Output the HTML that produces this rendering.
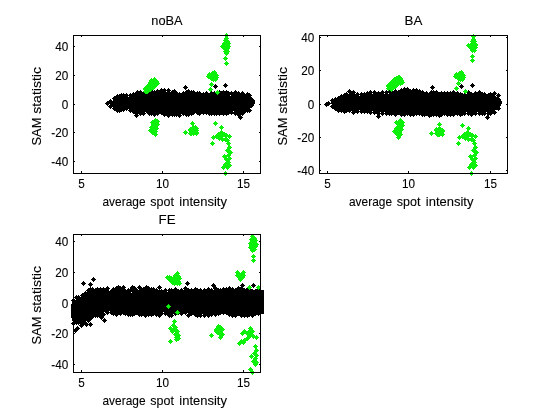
<!DOCTYPE html>
<html lang="en"><head><meta charset="utf-8"><title>SAM statistic vs average spot intensity</title>
<style>html,body{margin:0;padding:0;background:#fff;overflow:hidden}svg{display:block;will-change:transform}</style></head><body>
<svg width="560" height="420" viewBox="0 0 560 420">
<rect width="560" height="420" fill="#fff"/>
<g id="ax1">
<g font-family='"Liberation Sans", Arial, Helvetica, sans-serif' font-size="13.33" fill="#000" stroke="#000" stroke-width=".1"><text transform="translate(81.5 188.0) scale(.88 1)" text-anchor="middle">5</text><text transform="translate(162.5 188.0) scale(.88 1)" text-anchor="middle">10</text><text transform="translate(243.5 188.0) scale(.88 1)" text-anchor="middle">15</text><text transform="translate(68.2 50.8) scale(.88 1)" text-anchor="end">40</text><text transform="translate(68.2 79.8) scale(.88 1)" text-anchor="end">20</text><text transform="translate(68.2 108.8) scale(.88 1)" text-anchor="end">0</text><text transform="translate(68.2 136.8) scale(.88 1)" text-anchor="end">-20</text><text transform="translate(68.2 165.8) scale(.88 1)" text-anchor="end">-40</text><text x="167.0" y="25.0" text-anchor="middle" textLength="31.3" lengthAdjust="spacingAndGlyphs">noBA</text><text x="102.5" y="205.5" textLength="43" lengthAdjust="spacingAndGlyphs">average</text><text x="150.3" y="205.5" textLength="23.6" lengthAdjust="spacingAndGlyphs">spot</text><text x="179.3" y="205.5" textLength="47.6" lengthAdjust="spacingAndGlyphs">intensity</text><g transform="translate(41.2 106.2) rotate(-90)"><text x="-39.3" textLength="28" lengthAdjust="spacingAndGlyphs">SAM</text><text x="-7.6" textLength="46.8" lengthAdjust="spacingAndGlyphs">statistic</text></g></g>
<g shape-rendering="crispEdges" fill="#000"><polygon points="105.0,103.0 106.0,103.2 107.0,103.4 108.0,103.6 109.0,103.5 110.0,102.8 111.0,102.0 112.0,101.3 113.0,100.7 114.0,100.1 115.0,99.5 116.0,98.9 117.0,98.3 118.0,97.7 119.0,97.2 120.0,96.8 121.0,96.4 122.0,96.4 123.0,96.3 124.0,96.2 125.0,96.2 126.0,96.5 127.0,96.8 128.0,97.1 129.0,96.9 130.0,96.8 131.0,96.4 132.0,95.8 133.0,95.3 134.0,94.7 135.0,94.5 136.0,94.4 137.0,94.2 138.0,94.1 139.0,93.9 140.0,93.8 141.0,93.6 142.0,93.7 143.0,94.1 144.0,94.4 145.0,94.1 146.0,93.8 147.0,93.5 148.0,93.1 149.0,93.1 150.0,93.0 151.0,93.0 152.0,93.3 153.0,93.5 154.0,93.8 155.0,94.1 156.0,93.7 157.0,93.3 158.0,92.9 159.0,92.5 160.0,92.3 161.0,92.0 162.0,91.7 163.0,91.5 164.0,91.5 165.0,91.5 166.0,91.5 167.0,91.5 168.0,91.6 169.0,91.8 170.0,91.9 171.0,92.1 172.0,92.4 173.0,92.7 174.0,93.0 175.0,93.3 176.0,93.6 177.0,93.8 178.0,94.0 179.0,94.2 180.0,94.4 181.0,94.6 182.0,94.7 183.0,94.7 184.0,94.8 185.0,94.8 186.0,94.1 187.0,93.4 188.0,93.0 189.0,93.0 190.0,93.1 191.0,93.3 192.0,93.7 193.0,94.1 194.0,93.9 195.0,93.7 196.0,93.5 197.0,93.6 198.0,93.9 199.0,94.2 200.0,94.5 201.0,94.7 202.0,94.9 203.0,95.0 204.0,95.0 205.0,95.0 206.0,95.0 207.0,95.2 208.0,95.4 209.0,95.6 210.0,95.4 211.0,95.1 212.0,94.8 213.0,94.6 214.0,94.6 215.0,94.6 216.0,94.5 217.0,94.3 218.0,94.1 219.0,94.0 220.0,94.0 221.0,93.9 222.0,93.8 223.0,93.8 224.0,93.8 225.0,93.8 226.0,94.0 227.0,94.4 228.0,94.7 229.0,95.1 230.0,95.6 231.0,95.5 232.0,94.9 233.0,94.2 234.0,93.9 235.0,93.9 236.0,93.9 237.0,93.9 238.0,94.0 239.0,94.0 240.0,94.0 241.0,94.0 242.0,94.7 243.0,95.4 244.0,96.0 245.0,96.3 246.0,96.2 247.0,96.1 248.0,95.9 249.0,96.0 250.0,96.4 251.0,96.7 252.0,97.0 253.0,98.3 254.0,99.6 255.0,100.9 255.0,103.2 254.0,104.9 253.0,106.5 252.0,107.2 251.0,107.9 250.0,108.6 249.0,109.1 248.0,109.7 247.0,110.2 246.0,110.7 245.0,111.1 244.0,111.7 243.0,112.3 242.0,112.8 241.0,112.9 240.0,113.0 239.0,113.0 238.0,113.0 237.0,112.9 236.0,112.7 235.0,112.2 234.0,111.7 233.0,111.1 232.0,111.3 231.0,111.5 230.0,111.6 229.0,111.7 228.0,111.7 227.0,111.8 226.0,112.2 225.0,112.6 224.0,113.0 223.0,113.0 222.0,112.8 221.0,112.5 220.0,112.4 219.0,112.4 218.0,112.4 217.0,112.5 216.0,112.7 215.0,112.9 214.0,112.8 213.0,112.6 212.0,112.5 211.0,112.5 210.0,112.5 209.0,112.5 208.0,112.5 207.0,112.3 206.0,112.1 205.0,112.1 204.0,112.4 203.0,112.8 202.0,113.1 201.0,112.7 200.0,112.4 199.0,112.1 198.0,112.4 197.0,112.6 196.0,112.6 195.0,112.2 194.0,111.9 193.0,111.8 192.0,112.0 191.0,112.2 190.0,112.4 189.0,113.0 188.0,113.7 187.0,113.7 186.0,113.3 185.0,112.9 184.0,112.9 183.0,113.3 182.0,113.8 181.0,114.2 180.0,114.1 179.0,114.0 178.0,113.8 177.0,113.7 176.0,113.5 175.0,113.7 174.0,113.8 173.0,114.0 172.0,114.1 171.0,114.0 170.0,113.9 169.0,113.7 168.0,113.9 167.0,114.0 166.0,114.2 165.0,113.6 164.0,113.0 163.0,112.3 162.0,112.1 161.0,112.1 160.0,112.1 159.0,112.1 158.0,112.2 157.0,112.5 156.0,112.8 155.0,113.0 154.0,113.1 153.0,112.9 152.0,112.7 151.0,112.5 150.0,112.2 149.0,111.7 148.0,111.2 147.0,110.7 146.0,110.8 145.0,111.3 144.0,111.9 143.0,112.2 142.0,112.1 141.0,112.0 140.0,112.0 139.0,112.0 138.0,111.9 137.0,111.8 136.0,111.5 135.0,111.2 134.0,111.0 133.0,110.3 132.0,109.7 131.0,109.1 130.0,109.0 129.0,109.0 128.0,108.9 127.0,108.8 126.0,108.4 125.0,108.1 124.0,107.7 123.0,108.0 122.0,108.3 121.0,108.7 120.0,108.9 119.0,108.9 118.0,109.0 117.0,108.9 116.0,108.6 115.0,108.3 114.0,107.9 113.0,107.5 112.0,107.0 111.0,106.0 110.0,105.0 109.0,103.9 108.0,103.6 107.0,103.4 106.0,103.2 105.0,103.0"/><path d="M107.5 101.0l2.5 2.5l-2.5 2.5l-2.5 -2.5zM110.5 99.0l2.5 2.5l-2.5 2.5l-2.5 -2.5zM110.5 104.0l2.5 2.5l-2.5 2.5l-2.5 -2.5zM114.5 96.0l2.5 2.5l-2.5 2.5l-2.5 -2.5zM114.5 106.0l2.5 2.5l-2.5 2.5l-2.5 -2.5zM117.5 94.0l2.5 2.5l-2.5 2.5l-2.5 -2.5zM117.5 108.0l2.5 2.5l-2.5 2.5l-2.5 -2.5zM119.5 94.0l2.5 2.5l-2.5 2.5l-2.5 -2.5zM119.5 108.0l2.5 2.5l-2.5 2.5l-2.5 -2.5zM121.5 93.0l2.5 2.5l-2.5 2.5l-2.5 -2.5zM121.5 107.0l2.5 2.5l-2.5 2.5l-2.5 -2.5zM123.5 93.0l2.5 2.5l-2.5 2.5l-2.5 -2.5zM123.5 107.0l2.5 2.5l-2.5 2.5l-2.5 -2.5zM126.5 93.0l2.5 2.5l-2.5 2.5l-2.5 -2.5zM126.5 106.0l2.5 2.5l-2.5 2.5l-2.5 -2.5zM130.5 93.0l2.5 2.5l-2.5 2.5l-2.5 -2.5zM130.5 108.0l2.5 2.5l-2.5 2.5l-2.5 -2.5zM133.5 92.0l2.5 2.5l-2.5 2.5l-2.5 -2.5zM133.5 109.0l2.5 2.5l-2.5 2.5l-2.5 -2.5zM135.5 92.0l2.5 2.5l-2.5 2.5l-2.5 -2.5zM135.5 110.0l2.5 2.5l-2.5 2.5l-2.5 -2.5zM137.5 90.0l2.5 2.5l-2.5 2.5l-2.5 -2.5zM137.5 110.0l2.5 2.5l-2.5 2.5l-2.5 -2.5zM140.5 90.0l2.5 2.5l-2.5 2.5l-2.5 -2.5zM140.5 111.0l2.5 2.5l-2.5 2.5l-2.5 -2.5zM143.5 91.0l2.5 2.5l-2.5 2.5l-2.5 -2.5zM143.5 111.0l2.5 2.5l-2.5 2.5l-2.5 -2.5zM147.5 91.0l2.5 2.5l-2.5 2.5l-2.5 -2.5zM147.5 109.0l2.5 2.5l-2.5 2.5l-2.5 -2.5zM149.5 90.0l2.5 2.5l-2.5 2.5l-2.5 -2.5zM149.5 111.0l2.5 2.5l-2.5 2.5l-2.5 -2.5zM151.5 89.0l2.5 2.5l-2.5 2.5l-2.5 -2.5zM151.5 111.0l2.5 2.5l-2.5 2.5l-2.5 -2.5zM154.5 90.0l2.5 2.5l-2.5 2.5l-2.5 -2.5zM154.5 112.0l2.5 2.5l-2.5 2.5l-2.5 -2.5zM157.5 89.0l2.5 2.5l-2.5 2.5l-2.5 -2.5zM157.5 111.0l2.5 2.5l-2.5 2.5l-2.5 -2.5zM161.5 88.0l2.5 2.5l-2.5 2.5l-2.5 -2.5zM161.5 110.0l2.5 2.5l-2.5 2.5l-2.5 -2.5zM164.5 88.0l2.5 2.5l-2.5 2.5l-2.5 -2.5zM164.5 112.0l2.5 2.5l-2.5 2.5l-2.5 -2.5zM168.5 88.0l2.5 2.5l-2.5 2.5l-2.5 -2.5zM168.5 113.0l2.5 2.5l-2.5 2.5l-2.5 -2.5zM172.5 90.0l2.5 2.5l-2.5 2.5l-2.5 -2.5zM172.5 112.0l2.5 2.5l-2.5 2.5l-2.5 -2.5zM174.5 89.0l2.5 2.5l-2.5 2.5l-2.5 -2.5zM174.5 112.0l2.5 2.5l-2.5 2.5l-2.5 -2.5zM176.5 91.0l2.5 2.5l-2.5 2.5l-2.5 -2.5zM176.5 112.0l2.5 2.5l-2.5 2.5l-2.5 -2.5zM179.5 92.0l2.5 2.5l-2.5 2.5l-2.5 -2.5zM179.5 113.0l2.5 2.5l-2.5 2.5l-2.5 -2.5zM183.5 91.0l2.5 2.5l-2.5 2.5l-2.5 -2.5zM183.5 111.0l2.5 2.5l-2.5 2.5l-2.5 -2.5zM186.5 90.0l2.5 2.5l-2.5 2.5l-2.5 -2.5zM186.5 112.0l2.5 2.5l-2.5 2.5l-2.5 -2.5zM188.5 89.0l2.5 2.5l-2.5 2.5l-2.5 -2.5zM188.5 112.0l2.5 2.5l-2.5 2.5l-2.5 -2.5zM191.5 90.0l2.5 2.5l-2.5 2.5l-2.5 -2.5zM191.5 111.0l2.5 2.5l-2.5 2.5l-2.5 -2.5zM193.5 90.0l2.5 2.5l-2.5 2.5l-2.5 -2.5zM193.5 110.0l2.5 2.5l-2.5 2.5l-2.5 -2.5zM197.5 91.0l2.5 2.5l-2.5 2.5l-2.5 -2.5zM197.5 110.0l2.5 2.5l-2.5 2.5l-2.5 -2.5zM199.5 91.0l2.5 2.5l-2.5 2.5l-2.5 -2.5zM199.5 111.0l2.5 2.5l-2.5 2.5l-2.5 -2.5zM203.5 92.0l2.5 2.5l-2.5 2.5l-2.5 -2.5zM203.5 110.0l2.5 2.5l-2.5 2.5l-2.5 -2.5zM206.5 91.0l2.5 2.5l-2.5 2.5l-2.5 -2.5zM206.5 110.0l2.5 2.5l-2.5 2.5l-2.5 -2.5zM209.5 93.0l2.5 2.5l-2.5 2.5l-2.5 -2.5zM209.5 111.0l2.5 2.5l-2.5 2.5l-2.5 -2.5zM211.5 91.0l2.5 2.5l-2.5 2.5l-2.5 -2.5zM211.5 111.0l2.5 2.5l-2.5 2.5l-2.5 -2.5zM214.5 91.0l2.5 2.5l-2.5 2.5l-2.5 -2.5zM214.5 111.0l2.5 2.5l-2.5 2.5l-2.5 -2.5zM216.5 91.0l2.5 2.5l-2.5 2.5l-2.5 -2.5zM216.5 111.0l2.5 2.5l-2.5 2.5l-2.5 -2.5zM219.5 90.0l2.5 2.5l-2.5 2.5l-2.5 -2.5zM219.5 111.0l2.5 2.5l-2.5 2.5l-2.5 -2.5zM221.5 91.0l2.5 2.5l-2.5 2.5l-2.5 -2.5zM221.5 110.0l2.5 2.5l-2.5 2.5l-2.5 -2.5zM223.5 90.0l2.5 2.5l-2.5 2.5l-2.5 -2.5zM223.5 111.0l2.5 2.5l-2.5 2.5l-2.5 -2.5zM226.5 90.0l2.5 2.5l-2.5 2.5l-2.5 -2.5zM226.5 111.0l2.5 2.5l-2.5 2.5l-2.5 -2.5zM228.5 91.0l2.5 2.5l-2.5 2.5l-2.5 -2.5zM228.5 110.0l2.5 2.5l-2.5 2.5l-2.5 -2.5zM231.5 91.0l2.5 2.5l-2.5 2.5l-2.5 -2.5zM231.5 110.0l2.5 2.5l-2.5 2.5l-2.5 -2.5zM235.5 90.0l2.5 2.5l-2.5 2.5l-2.5 -2.5zM235.5 111.0l2.5 2.5l-2.5 2.5l-2.5 -2.5zM238.5 91.0l2.5 2.5l-2.5 2.5l-2.5 -2.5zM238.5 112.0l2.5 2.5l-2.5 2.5l-2.5 -2.5zM242.5 91.0l2.5 2.5l-2.5 2.5l-2.5 -2.5zM242.5 111.0l2.5 2.5l-2.5 2.5l-2.5 -2.5zM244.5 94.0l2.5 2.5l-2.5 2.5l-2.5 -2.5zM244.5 109.0l2.5 2.5l-2.5 2.5l-2.5 -2.5zM247.5 92.0l2.5 2.5l-2.5 2.5l-2.5 -2.5zM247.5 108.0l2.5 2.5l-2.5 2.5l-2.5 -2.5zM249.5 93.0l2.5 2.5l-2.5 2.5l-2.5 -2.5zM249.5 108.0l2.5 2.5l-2.5 2.5l-2.5 -2.5zM185.5 85.0l2.5 2.5l-2.5 2.5l-2.5 -2.5zM215.5 84.0l2.5 2.5l-2.5 2.5l-2.5 -2.5zM225.5 83.0l2.5 2.5l-2.5 2.5l-2.5 -2.5zM240.5 115.0l2.5 2.5l-2.5 2.5l-2.5 -2.5zM136.5 113.0l2.5 2.5l-2.5 2.5l-2.5 -2.5z"/></g>
<path shape-rendering="crispEdges" fill="#0cf00c" d="M226.5 33.0l2.5 2.5l-2.5 2.5l-2.5 -2.5zM226.5 36.0l2.5 2.5l-2.5 2.5l-2.5 -2.5zM225.5 38.0l2.5 2.5l-2.5 2.5l-2.5 -2.5zM227.5 39.0l2.5 2.5l-2.5 2.5l-2.5 -2.5zM224.5 41.0l2.5 2.5l-2.5 2.5l-2.5 -2.5zM226.5 41.0l2.5 2.5l-2.5 2.5l-2.5 -2.5zM228.5 41.0l2.5 2.5l-2.5 2.5l-2.5 -2.5zM222.5 44.0l2.5 2.5l-2.5 2.5l-2.5 -2.5zM225.5 44.0l2.5 2.5l-2.5 2.5l-2.5 -2.5zM227.5 44.0l2.5 2.5l-2.5 2.5l-2.5 -2.5zM228.5 44.0l2.5 2.5l-2.5 2.5l-2.5 -2.5zM225.5 46.0l2.5 2.5l-2.5 2.5l-2.5 -2.5zM227.5 46.0l2.5 2.5l-2.5 2.5l-2.5 -2.5zM224.5 46.0l2.5 2.5l-2.5 2.5l-2.5 -2.5zM225.5 49.0l2.5 2.5l-2.5 2.5l-2.5 -2.5zM227.5 49.0l2.5 2.5l-2.5 2.5l-2.5 -2.5zM226.5 51.0l2.5 2.5l-2.5 2.5l-2.5 -2.5zM225.5 56.0l2.5 2.5l-2.5 2.5l-2.5 -2.5zM226.5 61.0l2.5 2.5l-2.5 2.5l-2.5 -2.5zM214.5 70.0l2.5 2.5l-2.5 2.5l-2.5 -2.5zM212.5 71.0l2.5 2.5l-2.5 2.5l-2.5 -2.5zM209.5 72.0l2.5 2.5l-2.5 2.5l-2.5 -2.5zM208.5 74.0l2.5 2.5l-2.5 2.5l-2.5 -2.5zM211.5 74.0l2.5 2.5l-2.5 2.5l-2.5 -2.5zM213.5 73.0l2.5 2.5l-2.5 2.5l-2.5 -2.5zM216.5 73.0l2.5 2.5l-2.5 2.5l-2.5 -2.5zM216.5 75.0l2.5 2.5l-2.5 2.5l-2.5 -2.5zM214.5 76.0l2.5 2.5l-2.5 2.5l-2.5 -2.5zM211.5 76.0l2.5 2.5l-2.5 2.5l-2.5 -2.5zM215.5 77.0l2.5 2.5l-2.5 2.5l-2.5 -2.5zM213.5 77.0l2.5 2.5l-2.5 2.5l-2.5 -2.5zM210.5 75.0l2.5 2.5l-2.5 2.5l-2.5 -2.5zM214.5 72.0l2.5 2.5l-2.5 2.5l-2.5 -2.5zM211.5 82.0l2.5 2.5l-2.5 2.5l-2.5 -2.5zM210.5 87.0l2.5 2.5l-2.5 2.5l-2.5 -2.5zM217.5 90.0l2.5 2.5l-2.5 2.5l-2.5 -2.5zM147.5 84.0l2.5 2.5l-2.5 2.5l-2.5 -2.5zM150.5 81.0l2.5 2.5l-2.5 2.5l-2.5 -2.5zM150.5 83.0l2.5 2.5l-2.5 2.5l-2.5 -2.5zM146.5 88.0l2.5 2.5l-2.5 2.5l-2.5 -2.5zM145.5 87.0l2.5 2.5l-2.5 2.5l-2.5 -2.5zM151.5 86.0l2.5 2.5l-2.5 2.5l-2.5 -2.5zM146.5 87.0l2.5 2.5l-2.5 2.5l-2.5 -2.5zM153.5 85.0l2.5 2.5l-2.5 2.5l-2.5 -2.5zM153.5 78.0l2.5 2.5l-2.5 2.5l-2.5 -2.5zM153.5 80.0l2.5 2.5l-2.5 2.5l-2.5 -2.5zM145.5 86.0l2.5 2.5l-2.5 2.5l-2.5 -2.5zM150.5 87.0l2.5 2.5l-2.5 2.5l-2.5 -2.5zM147.5 87.0l2.5 2.5l-2.5 2.5l-2.5 -2.5zM151.5 82.0l2.5 2.5l-2.5 2.5l-2.5 -2.5zM149.5 82.0l2.5 2.5l-2.5 2.5l-2.5 -2.5zM152.5 82.0l2.5 2.5l-2.5 2.5l-2.5 -2.5zM149.5 86.0l2.5 2.5l-2.5 2.5l-2.5 -2.5zM149.5 84.0l2.5 2.5l-2.5 2.5l-2.5 -2.5zM154.5 82.0l2.5 2.5l-2.5 2.5l-2.5 -2.5zM148.5 87.0l2.5 2.5l-2.5 2.5l-2.5 -2.5zM152.5 85.0l2.5 2.5l-2.5 2.5l-2.5 -2.5zM152.5 81.0l2.5 2.5l-2.5 2.5l-2.5 -2.5zM150.5 86.0l2.5 2.5l-2.5 2.5l-2.5 -2.5zM146.5 89.0l2.5 2.5l-2.5 2.5l-2.5 -2.5zM153.5 82.0l2.5 2.5l-2.5 2.5l-2.5 -2.5zM152.5 83.0l2.5 2.5l-2.5 2.5l-2.5 -2.5zM151.5 83.0l2.5 2.5l-2.5 2.5l-2.5 -2.5zM155.5 83.0l2.5 2.5l-2.5 2.5l-2.5 -2.5zM151.5 85.0l2.5 2.5l-2.5 2.5l-2.5 -2.5zM147.5 89.0l2.5 2.5l-2.5 2.5l-2.5 -2.5zM152.5 80.0l2.5 2.5l-2.5 2.5l-2.5 -2.5zM151.5 78.0l2.5 2.5l-2.5 2.5l-2.5 -2.5zM154.5 77.0l2.5 2.5l-2.5 2.5l-2.5 -2.5zM153.5 79.0l2.5 2.5l-2.5 2.5l-2.5 -2.5zM156.5 79.0l2.5 2.5l-2.5 2.5l-2.5 -2.5zM150.5 80.0l2.5 2.5l-2.5 2.5l-2.5 -2.5zM155.5 82.0l2.5 2.5l-2.5 2.5l-2.5 -2.5zM154.5 84.0l2.5 2.5l-2.5 2.5l-2.5 -2.5zM145.5 89.0l2.5 2.5l-2.5 2.5l-2.5 -2.5zM157.5 81.0l2.5 2.5l-2.5 2.5l-2.5 -2.5zM154.5 120.0l2.5 2.5l-2.5 2.5l-2.5 -2.5zM155.5 124.0l2.5 2.5l-2.5 2.5l-2.5 -2.5zM152.5 126.0l2.5 2.5l-2.5 2.5l-2.5 -2.5zM154.5 128.0l2.5 2.5l-2.5 2.5l-2.5 -2.5zM152.5 129.9l2.5 2.5l-2.5 2.5l-2.5 -2.5zM154.5 130.9l2.5 2.5l-2.5 2.5l-2.5 -2.5zM155.5 118.0l2.5 2.5l-2.5 2.5l-2.5 -2.5zM153.5 122.0l2.5 2.5l-2.5 2.5l-2.5 -2.5zM157.5 122.0l2.5 2.5l-2.5 2.5l-2.5 -2.5zM151.5 125.0l2.5 2.5l-2.5 2.5l-2.5 -2.5zM156.5 126.0l2.5 2.5l-2.5 2.5l-2.5 -2.5zM153.5 124.0l2.5 2.5l-2.5 2.5l-2.5 -2.5zM150.5 128.0l2.5 2.5l-2.5 2.5l-2.5 -2.5zM155.5 128.9l2.5 2.5l-2.5 2.5l-2.5 -2.5zM153.5 128.0l2.5 2.5l-2.5 2.5l-2.5 -2.5zM155.5 131.9l2.5 2.5l-2.5 2.5l-2.5 -2.5zM157.5 119.0l2.5 2.5l-2.5 2.5l-2.5 -2.5zM152.5 120.0l2.5 2.5l-2.5 2.5l-2.5 -2.5zM192.5 121.0l2.5 2.5l-2.5 2.5l-2.5 -2.5zM185.5 129.9l2.5 2.5l-2.5 2.5l-2.5 -2.5zM194.5 129.9l2.5 2.5l-2.5 2.5l-2.5 -2.5zM196.5 129.9l2.5 2.5l-2.5 2.5l-2.5 -2.5zM190.5 130.9l2.5 2.5l-2.5 2.5l-2.5 -2.5zM195.5 129.9l2.5 2.5l-2.5 2.5l-2.5 -2.5zM190.5 127.0l2.5 2.5l-2.5 2.5l-2.5 -2.5zM195.5 125.0l2.5 2.5l-2.5 2.5l-2.5 -2.5zM193.5 130.9l2.5 2.5l-2.5 2.5l-2.5 -2.5zM191.5 130.9l2.5 2.5l-2.5 2.5l-2.5 -2.5zM194.5 128.0l2.5 2.5l-2.5 2.5l-2.5 -2.5zM192.5 127.0l2.5 2.5l-2.5 2.5l-2.5 -2.5zM195.5 128.9l2.5 2.5l-2.5 2.5l-2.5 -2.5zM196.5 128.0l2.5 2.5l-2.5 2.5l-2.5 -2.5zM190.5 128.0l2.5 2.5l-2.5 2.5l-2.5 -2.5zM193.5 128.0l2.5 2.5l-2.5 2.5l-2.5 -2.5zM196.5 126.0l2.5 2.5l-2.5 2.5l-2.5 -2.5zM195.5 126.0l2.5 2.5l-2.5 2.5l-2.5 -2.5zM191.5 129.9l2.5 2.5l-2.5 2.5l-2.5 -2.5zM193.5 125.0l2.5 2.5l-2.5 2.5l-2.5 -2.5zM196.5 130.9l2.5 2.5l-2.5 2.5l-2.5 -2.5zM215.5 121.0l2.5 2.5l-2.5 2.5l-2.5 -2.5zM221.5 125.0l2.5 2.5l-2.5 2.5l-2.5 -2.5zM212.5 140.9l2.5 2.5l-2.5 2.5l-2.5 -2.5zM213.5 134.9l2.5 2.5l-2.5 2.5l-2.5 -2.5zM216.5 133.9l2.5 2.5l-2.5 2.5l-2.5 -2.5zM218.5 131.9l2.5 2.5l-2.5 2.5l-2.5 -2.5zM221.5 129.9l2.5 2.5l-2.5 2.5l-2.5 -2.5zM221.5 133.9l2.5 2.5l-2.5 2.5l-2.5 -2.5zM224.5 131.9l2.5 2.5l-2.5 2.5l-2.5 -2.5zM226.5 132.9l2.5 2.5l-2.5 2.5l-2.5 -2.5zM229.5 133.9l2.5 2.5l-2.5 2.5l-2.5 -2.5zM222.5 136.9l2.5 2.5l-2.5 2.5l-2.5 -2.5zM219.5 135.9l2.5 2.5l-2.5 2.5l-2.5 -2.5zM225.5 136.9l2.5 2.5l-2.5 2.5l-2.5 -2.5zM227.5 137.9l2.5 2.5l-2.5 2.5l-2.5 -2.5zM228.5 140.9l2.5 2.5l-2.5 2.5l-2.5 -2.5zM229.5 144.9l2.5 2.5l-2.5 2.5l-2.5 -2.5zM227.5 147.9l2.5 2.5l-2.5 2.5l-2.5 -2.5zM230.5 149.9l2.5 2.5l-2.5 2.5l-2.5 -2.5zM228.5 152.9l2.5 2.5l-2.5 2.5l-2.5 -2.5zM229.5 155.9l2.5 2.5l-2.5 2.5l-2.5 -2.5zM226.5 156.9l2.5 2.5l-2.5 2.5l-2.5 -2.5zM224.5 153.9l2.5 2.5l-2.5 2.5l-2.5 -2.5zM228.5 159.9l2.5 2.5l-2.5 2.5l-2.5 -2.5zM229.5 162.9l2.5 2.5l-2.5 2.5l-2.5 -2.5zM225.5 161.9l2.5 2.5l-2.5 2.5l-2.5 -2.5zM224.5 163.9l2.5 2.5l-2.5 2.5l-2.5 -2.5zM227.5 164.9l2.5 2.5l-2.5 2.5l-2.5 -2.5zM223.5 164.9l2.5 2.5l-2.5 2.5l-2.5 -2.5zM225.5 170.9l2.5 2.5l-2.5 2.5l-2.5 -2.5z"/>
<g shape-rendering="crispEdges" stroke="#000" stroke-width="1" fill="none"><rect x="73.5" y="35.5" width="187" height="138"/><path d="M81.5 173v-2M81.5 36v1M162.5 173v-2M162.5 36v1M243.5 173v-2M243.5 36v1M74 46.5h1M260 46.5h-1M74 75.5h1M260 75.5h-1M74 104.5h1M260 104.5h-1M74 132.5h1M260 132.5h-1M74 161.5h1M260 161.5h-1"/></g>
</g>
<g id="ax2">
<g font-family='"Liberation Sans", Arial, Helvetica, sans-serif' font-size="13.33" fill="#000" stroke="#000" stroke-width=".1"><text transform="translate(327.5 188.0) scale(.88 1)" text-anchor="middle">5</text><text transform="translate(408.5 188.0) scale(.88 1)" text-anchor="middle">10</text><text transform="translate(490.5 188.0) scale(.88 1)" text-anchor="middle">15</text><text transform="translate(314.2 41.8) scale(.88 1)" text-anchor="end">40</text><text transform="translate(314.2 74.8) scale(.88 1)" text-anchor="end">20</text><text transform="translate(314.2 108.8) scale(.88 1)" text-anchor="end">0</text><text transform="translate(314.2 141.8) scale(.88 1)" text-anchor="end">-20</text><text transform="translate(314.2 174.8) scale(.88 1)" text-anchor="end">-40</text><text x="413.5" y="25.0" text-anchor="middle">BA</text><text x="349.0" y="205.5" textLength="43" lengthAdjust="spacingAndGlyphs">average</text><text x="396.8" y="205.5" textLength="23.6" lengthAdjust="spacingAndGlyphs">spot</text><text x="425.8" y="205.5" textLength="47.6" lengthAdjust="spacingAndGlyphs">intensity</text><g transform="translate(287.2 106.2) rotate(-90)"><text x="-39.3" textLength="28" lengthAdjust="spacingAndGlyphs">SAM</text><text x="-7.6" textLength="46.8" lengthAdjust="spacingAndGlyphs">statistic</text></g></g>
<g shape-rendering="crispEdges" fill="#000"><polygon points="324.0,104.6 325.0,104.5 326.0,104.4 327.0,104.3 328.0,104.1 329.0,103.9 330.0,103.5 331.0,102.4 332.0,101.7 333.0,101.3 334.0,100.8 335.0,100.4 336.0,100.1 337.0,99.8 338.0,99.5 339.0,99.0 340.0,98.4 341.0,97.8 342.0,97.4 343.0,97.2 344.0,97.0 345.0,96.9 346.0,96.3 347.0,95.4 348.0,94.5 349.0,93.6 350.0,93.1 351.0,92.9 352.0,92.7 353.0,92.8 354.0,93.1 355.0,93.3 356.0,94.0 357.0,94.6 358.0,95.2 359.0,95.8 360.0,95.6 361.0,95.4 362.0,95.2 363.0,95.2 364.0,95.2 365.0,95.2 366.0,95.1 367.0,94.8 368.0,94.5 369.0,94.3 370.0,94.1 371.0,94.1 372.0,94.0 373.0,94.0 374.0,93.9 375.0,93.9 376.0,94.2 377.0,94.6 378.0,95.0 379.0,95.0 380.0,94.4 381.0,93.9 382.0,93.8 383.0,93.7 384.0,93.6 385.0,93.8 386.0,94.0 387.0,94.2 388.0,94.0 389.0,93.2 390.0,92.5 391.0,92.2 392.0,92.4 393.0,92.6 394.0,92.8 395.0,93.0 396.0,93.0 397.0,93.0 398.0,93.0 399.0,92.8 400.0,92.5 401.0,92.2 402.0,91.9 403.0,91.6 404.0,91.2 405.0,90.9 406.0,91.0 407.0,91.1 408.0,91.3 409.0,91.6 410.0,91.9 411.0,92.2 412.0,92.1 413.0,92.0 414.0,91.8 415.0,91.8 416.0,92.1 417.0,92.3 418.0,92.5 419.0,92.9 420.0,93.2 421.0,93.5 422.0,93.8 423.0,94.1 424.0,94.4 425.0,94.7 426.0,94.7 427.0,94.8 428.0,94.8 429.0,94.8 430.0,94.5 431.0,94.1 432.0,93.7 433.0,93.5 434.0,93.6 435.0,93.6 436.0,93.8 437.0,94.2 438.0,94.6 439.0,94.9 440.0,95.0 441.0,94.6 442.0,94.3 443.0,93.9 444.0,94.0 445.0,94.6 446.0,95.2 447.0,95.2 448.0,95.2 449.0,95.2 450.0,95.2 451.0,94.7 452.0,94.2 453.0,93.8 454.0,93.9 455.0,94.0 456.0,94.1 457.0,94.6 458.0,95.2 459.0,95.7 460.0,95.5 461.0,95.3 462.0,95.3 463.0,95.5 464.0,95.7 465.0,95.0 466.0,94.2 467.0,93.9 468.0,94.0 469.0,94.1 470.0,94.3 471.0,94.5 472.0,94.7 473.0,94.7 474.0,94.7 475.0,94.7 476.0,94.5 477.0,94.3 478.0,94.1 479.0,93.9 480.0,93.9 481.0,93.9 482.0,94.2 483.0,94.8 484.0,95.3 485.0,95.9 486.0,95.8 487.0,95.7 488.0,95.6 489.0,95.3 490.0,95.1 491.0,94.8 492.0,94.7 493.0,94.6 494.0,94.5 495.0,95.5 496.0,96.5 497.0,97.4 498.0,97.5 499.0,97.6 500.0,98.8 501.0,100.0 502.0,101.2 502.0,103.0 501.0,104.7 500.0,106.5 499.0,107.5 498.0,108.5 497.0,109.2 496.0,109.9 495.0,110.6 494.0,111.4 493.0,111.7 492.0,112.1 491.0,112.4 490.0,112.8 489.0,112.6 488.0,112.5 487.0,112.4 486.0,112.3 485.0,112.5 484.0,112.7 483.0,112.8 482.0,112.9 481.0,112.7 480.0,112.6 479.0,112.5 478.0,112.4 477.0,112.2 476.0,112.0 475.0,112.2 474.0,112.8 473.0,113.3 472.0,113.1 471.0,112.9 470.0,112.7 469.0,112.5 468.0,112.4 467.0,112.2 466.0,112.1 465.0,112.2 464.0,112.7 463.0,113.2 462.0,113.3 461.0,113.1 460.0,112.9 459.0,112.7 458.0,112.7 457.0,112.7 456.0,112.7 455.0,113.0 454.0,113.4 453.0,113.5 452.0,113.4 451.0,113.3 450.0,113.2 449.0,113.1 448.0,113.0 447.0,112.9 446.0,112.7 445.0,112.6 444.0,112.4 443.0,112.6 442.0,113.0 441.0,113.4 440.0,113.8 439.0,113.8 438.0,113.7 437.0,113.6 436.0,113.6 435.0,113.4 434.0,113.3 433.0,113.1 432.0,113.4 431.0,113.8 430.0,114.0 429.0,113.7 428.0,113.4 427.0,113.2 426.0,113.1 425.0,113.0 424.0,112.9 423.0,113.1 422.0,113.6 421.0,114.1 420.0,114.0 419.0,113.5 418.0,113.0 417.0,112.8 416.0,112.6 415.0,112.5 414.0,113.2 413.0,113.8 412.0,114.0 411.0,113.6 410.0,113.2 409.0,113.0 408.0,112.9 407.0,112.7 406.0,112.8 405.0,113.0 404.0,113.2 403.0,113.4 402.0,113.6 401.0,113.7 400.0,113.5 399.0,112.9 398.0,112.3 397.0,112.2 396.0,112.6 395.0,113.1 394.0,113.5 393.0,113.5 392.0,113.2 391.0,112.9 390.0,112.6 389.0,112.3 388.0,112.1 387.0,111.8 386.0,112.1 385.0,112.3 384.0,112.6 383.0,112.5 382.0,112.4 381.0,112.4 380.0,112.3 379.0,112.2 378.0,112.1 377.0,112.0 376.0,111.9 375.0,111.6 374.0,111.3 373.0,111.4 372.0,111.5 371.0,111.5 370.0,111.3 369.0,111.2 368.0,111.0 367.0,110.9 366.0,110.9 365.0,110.8 364.0,110.8 363.0,110.6 362.0,110.3 361.0,110.1 360.0,110.2 359.0,110.3 358.0,110.5 357.0,110.6 356.0,110.6 355.0,110.7 354.0,110.8 353.0,110.8 352.0,110.9 351.0,110.9 350.0,110.7 349.0,110.3 348.0,109.9 347.0,109.4 346.0,109.4 345.0,109.8 344.0,110.2 343.0,110.2 342.0,109.8 341.0,109.3 340.0,109.3 339.0,109.2 338.0,109.1 337.0,109.1 336.0,107.9 335.0,106.8 334.0,105.6 333.0,105.1 332.0,104.7 331.0,104.2 330.0,103.7 329.0,103.9 328.0,104.1 327.0,104.3 326.0,104.4 325.0,104.5 324.0,104.6"/><path d="M326.5 102.0l2.5 2.5l-2.5 2.5l-2.5 -2.5zM328.5 101.0l2.5 2.5l-2.5 2.5l-2.5 -2.5zM332.5 98.0l2.5 2.5l-2.5 2.5l-2.5 -2.5zM332.5 104.0l2.5 2.5l-2.5 2.5l-2.5 -2.5zM335.5 97.0l2.5 2.5l-2.5 2.5l-2.5 -2.5zM335.5 106.0l2.5 2.5l-2.5 2.5l-2.5 -2.5zM338.5 96.0l2.5 2.5l-2.5 2.5l-2.5 -2.5zM338.5 108.0l2.5 2.5l-2.5 2.5l-2.5 -2.5zM341.5 94.0l2.5 2.5l-2.5 2.5l-2.5 -2.5zM341.5 108.0l2.5 2.5l-2.5 2.5l-2.5 -2.5zM344.5 93.0l2.5 2.5l-2.5 2.5l-2.5 -2.5zM344.5 109.0l2.5 2.5l-2.5 2.5l-2.5 -2.5zM346.5 92.0l2.5 2.5l-2.5 2.5l-2.5 -2.5zM346.5 108.0l2.5 2.5l-2.5 2.5l-2.5 -2.5zM349.5 89.0l2.5 2.5l-2.5 2.5l-2.5 -2.5zM349.5 108.0l2.5 2.5l-2.5 2.5l-2.5 -2.5zM353.5 90.0l2.5 2.5l-2.5 2.5l-2.5 -2.5zM353.5 110.0l2.5 2.5l-2.5 2.5l-2.5 -2.5zM357.5 92.0l2.5 2.5l-2.5 2.5l-2.5 -2.5zM357.5 109.0l2.5 2.5l-2.5 2.5l-2.5 -2.5zM361.5 92.0l2.5 2.5l-2.5 2.5l-2.5 -2.5zM361.5 109.0l2.5 2.5l-2.5 2.5l-2.5 -2.5zM364.5 92.0l2.5 2.5l-2.5 2.5l-2.5 -2.5zM364.5 109.0l2.5 2.5l-2.5 2.5l-2.5 -2.5zM367.5 91.0l2.5 2.5l-2.5 2.5l-2.5 -2.5zM367.5 109.0l2.5 2.5l-2.5 2.5l-2.5 -2.5zM370.5 90.0l2.5 2.5l-2.5 2.5l-2.5 -2.5zM370.5 110.0l2.5 2.5l-2.5 2.5l-2.5 -2.5zM374.5 90.0l2.5 2.5l-2.5 2.5l-2.5 -2.5zM374.5 110.0l2.5 2.5l-2.5 2.5l-2.5 -2.5zM378.5 91.0l2.5 2.5l-2.5 2.5l-2.5 -2.5zM378.5 111.0l2.5 2.5l-2.5 2.5l-2.5 -2.5zM382.5 90.0l2.5 2.5l-2.5 2.5l-2.5 -2.5zM382.5 111.0l2.5 2.5l-2.5 2.5l-2.5 -2.5zM386.5 90.0l2.5 2.5l-2.5 2.5l-2.5 -2.5zM386.5 111.0l2.5 2.5l-2.5 2.5l-2.5 -2.5zM389.5 89.0l2.5 2.5l-2.5 2.5l-2.5 -2.5zM389.5 111.0l2.5 2.5l-2.5 2.5l-2.5 -2.5zM391.5 90.0l2.5 2.5l-2.5 2.5l-2.5 -2.5zM391.5 111.0l2.5 2.5l-2.5 2.5l-2.5 -2.5zM395.5 89.0l2.5 2.5l-2.5 2.5l-2.5 -2.5zM395.5 112.0l2.5 2.5l-2.5 2.5l-2.5 -2.5zM398.5 90.0l2.5 2.5l-2.5 2.5l-2.5 -2.5zM398.5 110.0l2.5 2.5l-2.5 2.5l-2.5 -2.5zM401.5 88.0l2.5 2.5l-2.5 2.5l-2.5 -2.5zM401.5 112.0l2.5 2.5l-2.5 2.5l-2.5 -2.5zM404.5 87.0l2.5 2.5l-2.5 2.5l-2.5 -2.5zM404.5 112.0l2.5 2.5l-2.5 2.5l-2.5 -2.5zM407.5 87.0l2.5 2.5l-2.5 2.5l-2.5 -2.5zM407.5 111.0l2.5 2.5l-2.5 2.5l-2.5 -2.5zM410.5 89.0l2.5 2.5l-2.5 2.5l-2.5 -2.5zM410.5 112.0l2.5 2.5l-2.5 2.5l-2.5 -2.5zM413.5 88.0l2.5 2.5l-2.5 2.5l-2.5 -2.5zM413.5 112.0l2.5 2.5l-2.5 2.5l-2.5 -2.5zM416.5 88.0l2.5 2.5l-2.5 2.5l-2.5 -2.5zM416.5 111.0l2.5 2.5l-2.5 2.5l-2.5 -2.5zM419.5 89.0l2.5 2.5l-2.5 2.5l-2.5 -2.5zM419.5 111.0l2.5 2.5l-2.5 2.5l-2.5 -2.5zM422.5 90.0l2.5 2.5l-2.5 2.5l-2.5 -2.5zM422.5 112.0l2.5 2.5l-2.5 2.5l-2.5 -2.5zM424.5 92.0l2.5 2.5l-2.5 2.5l-2.5 -2.5zM424.5 112.0l2.5 2.5l-2.5 2.5l-2.5 -2.5zM426.5 91.0l2.5 2.5l-2.5 2.5l-2.5 -2.5zM426.5 111.0l2.5 2.5l-2.5 2.5l-2.5 -2.5zM429.5 92.0l2.5 2.5l-2.5 2.5l-2.5 -2.5zM429.5 113.0l2.5 2.5l-2.5 2.5l-2.5 -2.5zM431.5 90.0l2.5 2.5l-2.5 2.5l-2.5 -2.5zM431.5 112.0l2.5 2.5l-2.5 2.5l-2.5 -2.5zM433.5 90.0l2.5 2.5l-2.5 2.5l-2.5 -2.5zM433.5 112.0l2.5 2.5l-2.5 2.5l-2.5 -2.5zM436.5 90.0l2.5 2.5l-2.5 2.5l-2.5 -2.5zM436.5 112.0l2.5 2.5l-2.5 2.5l-2.5 -2.5zM439.5 92.0l2.5 2.5l-2.5 2.5l-2.5 -2.5zM439.5 113.0l2.5 2.5l-2.5 2.5l-2.5 -2.5zM441.5 91.0l2.5 2.5l-2.5 2.5l-2.5 -2.5zM441.5 112.0l2.5 2.5l-2.5 2.5l-2.5 -2.5zM444.5 91.0l2.5 2.5l-2.5 2.5l-2.5 -2.5zM444.5 111.0l2.5 2.5l-2.5 2.5l-2.5 -2.5zM447.5 91.0l2.5 2.5l-2.5 2.5l-2.5 -2.5zM447.5 112.0l2.5 2.5l-2.5 2.5l-2.5 -2.5zM450.5 91.0l2.5 2.5l-2.5 2.5l-2.5 -2.5zM450.5 112.0l2.5 2.5l-2.5 2.5l-2.5 -2.5zM453.5 90.0l2.5 2.5l-2.5 2.5l-2.5 -2.5zM453.5 112.0l2.5 2.5l-2.5 2.5l-2.5 -2.5zM457.5 91.0l2.5 2.5l-2.5 2.5l-2.5 -2.5zM457.5 111.0l2.5 2.5l-2.5 2.5l-2.5 -2.5zM460.5 92.0l2.5 2.5l-2.5 2.5l-2.5 -2.5zM460.5 112.0l2.5 2.5l-2.5 2.5l-2.5 -2.5zM462.5 93.0l2.5 2.5l-2.5 2.5l-2.5 -2.5zM462.5 111.0l2.5 2.5l-2.5 2.5l-2.5 -2.5zM464.5 93.0l2.5 2.5l-2.5 2.5l-2.5 -2.5zM464.5 111.0l2.5 2.5l-2.5 2.5l-2.5 -2.5zM468.5 90.0l2.5 2.5l-2.5 2.5l-2.5 -2.5zM468.5 111.0l2.5 2.5l-2.5 2.5l-2.5 -2.5zM471.5 92.0l2.5 2.5l-2.5 2.5l-2.5 -2.5zM471.5 112.0l2.5 2.5l-2.5 2.5l-2.5 -2.5zM475.5 91.0l2.5 2.5l-2.5 2.5l-2.5 -2.5zM475.5 111.0l2.5 2.5l-2.5 2.5l-2.5 -2.5zM479.5 90.0l2.5 2.5l-2.5 2.5l-2.5 -2.5zM479.5 111.0l2.5 2.5l-2.5 2.5l-2.5 -2.5zM482.5 92.0l2.5 2.5l-2.5 2.5l-2.5 -2.5zM482.5 111.0l2.5 2.5l-2.5 2.5l-2.5 -2.5zM484.5 92.0l2.5 2.5l-2.5 2.5l-2.5 -2.5zM484.5 111.0l2.5 2.5l-2.5 2.5l-2.5 -2.5zM488.5 93.0l2.5 2.5l-2.5 2.5l-2.5 -2.5zM488.5 111.0l2.5 2.5l-2.5 2.5l-2.5 -2.5zM490.5 92.0l2.5 2.5l-2.5 2.5l-2.5 -2.5zM490.5 111.0l2.5 2.5l-2.5 2.5l-2.5 -2.5zM494.5 91.0l2.5 2.5l-2.5 2.5l-2.5 -2.5zM494.5 110.0l2.5 2.5l-2.5 2.5l-2.5 -2.5zM498.5 93.0l2.5 2.5l-2.5 2.5l-2.5 -2.5zM498.5 106.0l2.5 2.5l-2.5 2.5l-2.5 -2.5zM432.5 85.0l2.5 2.5l-2.5 2.5l-2.5 -2.5zM461.5 84.0l2.5 2.5l-2.5 2.5l-2.5 -2.5zM472.5 83.0l2.5 2.5l-2.5 2.5l-2.5 -2.5zM487.5 115.0l2.5 2.5l-2.5 2.5l-2.5 -2.5zM378.5 114.0l2.5 2.5l-2.5 2.5l-2.5 -2.5z"/></g>
<path shape-rendering="crispEdges" fill="#0cf00c" d="M473.5 34.0l2.5 2.5l-2.5 2.5l-2.5 -2.5zM473.5 37.0l2.5 2.5l-2.5 2.5l-2.5 -2.5zM472.5 39.0l2.5 2.5l-2.5 2.5l-2.5 -2.5zM474.5 39.0l2.5 2.5l-2.5 2.5l-2.5 -2.5zM471.5 42.0l2.5 2.5l-2.5 2.5l-2.5 -2.5zM473.5 42.0l2.5 2.5l-2.5 2.5l-2.5 -2.5zM475.5 42.0l2.5 2.5l-2.5 2.5l-2.5 -2.5zM468.5 43.0l2.5 2.5l-2.5 2.5l-2.5 -2.5zM475.5 43.0l2.5 2.5l-2.5 2.5l-2.5 -2.5zM470.5 45.0l2.5 2.5l-2.5 2.5l-2.5 -2.5zM473.5 45.0l2.5 2.5l-2.5 2.5l-2.5 -2.5zM475.5 45.0l2.5 2.5l-2.5 2.5l-2.5 -2.5zM472.5 48.0l2.5 2.5l-2.5 2.5l-2.5 -2.5zM474.5 48.0l2.5 2.5l-2.5 2.5l-2.5 -2.5zM472.5 54.0l2.5 2.5l-2.5 2.5l-2.5 -2.5zM472.5 58.0l2.5 2.5l-2.5 2.5l-2.5 -2.5zM461.5 70.0l2.5 2.5l-2.5 2.5l-2.5 -2.5zM459.5 71.0l2.5 2.5l-2.5 2.5l-2.5 -2.5zM456.5 72.0l2.5 2.5l-2.5 2.5l-2.5 -2.5zM455.5 74.0l2.5 2.5l-2.5 2.5l-2.5 -2.5zM458.5 74.0l2.5 2.5l-2.5 2.5l-2.5 -2.5zM460.5 73.0l2.5 2.5l-2.5 2.5l-2.5 -2.5zM463.5 73.0l2.5 2.5l-2.5 2.5l-2.5 -2.5zM463.5 75.0l2.5 2.5l-2.5 2.5l-2.5 -2.5zM461.5 76.0l2.5 2.5l-2.5 2.5l-2.5 -2.5zM458.5 76.0l2.5 2.5l-2.5 2.5l-2.5 -2.5zM462.5 77.0l2.5 2.5l-2.5 2.5l-2.5 -2.5zM460.5 77.0l2.5 2.5l-2.5 2.5l-2.5 -2.5zM457.5 75.0l2.5 2.5l-2.5 2.5l-2.5 -2.5zM461.5 72.0l2.5 2.5l-2.5 2.5l-2.5 -2.5zM458.5 81.0l2.5 2.5l-2.5 2.5l-2.5 -2.5zM456.5 86.0l2.5 2.5l-2.5 2.5l-2.5 -2.5zM465.5 89.0l2.5 2.5l-2.5 2.5l-2.5 -2.5zM388.5 83.0l2.5 2.5l-2.5 2.5l-2.5 -2.5zM390.5 82.0l2.5 2.5l-2.5 2.5l-2.5 -2.5zM391.5 80.0l2.5 2.5l-2.5 2.5l-2.5 -2.5zM388.5 84.0l2.5 2.5l-2.5 2.5l-2.5 -2.5zM390.5 84.0l2.5 2.5l-2.5 2.5l-2.5 -2.5zM391.5 87.0l2.5 2.5l-2.5 2.5l-2.5 -2.5zM394.5 79.0l2.5 2.5l-2.5 2.5l-2.5 -2.5zM391.5 83.0l2.5 2.5l-2.5 2.5l-2.5 -2.5zM392.5 81.0l2.5 2.5l-2.5 2.5l-2.5 -2.5zM400.5 81.0l2.5 2.5l-2.5 2.5l-2.5 -2.5zM394.5 81.0l2.5 2.5l-2.5 2.5l-2.5 -2.5zM389.5 83.0l2.5 2.5l-2.5 2.5l-2.5 -2.5zM397.5 77.0l2.5 2.5l-2.5 2.5l-2.5 -2.5zM393.5 79.0l2.5 2.5l-2.5 2.5l-2.5 -2.5zM396.5 83.0l2.5 2.5l-2.5 2.5l-2.5 -2.5zM399.5 79.0l2.5 2.5l-2.5 2.5l-2.5 -2.5zM392.5 85.0l2.5 2.5l-2.5 2.5l-2.5 -2.5zM396.5 82.0l2.5 2.5l-2.5 2.5l-2.5 -2.5zM399.5 80.0l2.5 2.5l-2.5 2.5l-2.5 -2.5zM392.5 84.0l2.5 2.5l-2.5 2.5l-2.5 -2.5zM389.5 84.0l2.5 2.5l-2.5 2.5l-2.5 -2.5zM393.5 84.0l2.5 2.5l-2.5 2.5l-2.5 -2.5zM399.5 77.0l2.5 2.5l-2.5 2.5l-2.5 -2.5zM401.5 80.0l2.5 2.5l-2.5 2.5l-2.5 -2.5zM397.5 82.0l2.5 2.5l-2.5 2.5l-2.5 -2.5zM398.5 78.0l2.5 2.5l-2.5 2.5l-2.5 -2.5zM397.5 81.0l2.5 2.5l-2.5 2.5l-2.5 -2.5zM391.5 85.0l2.5 2.5l-2.5 2.5l-2.5 -2.5zM400.5 79.0l2.5 2.5l-2.5 2.5l-2.5 -2.5zM397.5 79.0l2.5 2.5l-2.5 2.5l-2.5 -2.5zM394.5 84.0l2.5 2.5l-2.5 2.5l-2.5 -2.5zM395.5 84.0l2.5 2.5l-2.5 2.5l-2.5 -2.5zM396.5 78.0l2.5 2.5l-2.5 2.5l-2.5 -2.5zM392.5 86.0l2.5 2.5l-2.5 2.5l-2.5 -2.5zM400.5 78.0l2.5 2.5l-2.5 2.5l-2.5 -2.5zM388.5 86.0l2.5 2.5l-2.5 2.5l-2.5 -2.5zM396.5 76.0l2.5 2.5l-2.5 2.5l-2.5 -2.5zM398.5 75.0l2.5 2.5l-2.5 2.5l-2.5 -2.5zM400.5 76.0l2.5 2.5l-2.5 2.5l-2.5 -2.5zM399.5 75.0l2.5 2.5l-2.5 2.5l-2.5 -2.5zM401.5 78.0l2.5 2.5l-2.5 2.5l-2.5 -2.5zM402.5 80.0l2.5 2.5l-2.5 2.5l-2.5 -2.5zM394.5 77.0l2.5 2.5l-2.5 2.5l-2.5 -2.5zM399.5 120.0l2.5 2.5l-2.5 2.5l-2.5 -2.5zM400.5 124.0l2.5 2.5l-2.5 2.5l-2.5 -2.5zM397.5 126.0l2.5 2.5l-2.5 2.5l-2.5 -2.5zM399.5 128.0l2.5 2.5l-2.5 2.5l-2.5 -2.5zM396.5 129.9l2.5 2.5l-2.5 2.5l-2.5 -2.5zM397.5 131.9l2.5 2.5l-2.5 2.5l-2.5 -2.5zM400.5 118.0l2.5 2.5l-2.5 2.5l-2.5 -2.5zM398.5 122.0l2.5 2.5l-2.5 2.5l-2.5 -2.5zM402.5 123.0l2.5 2.5l-2.5 2.5l-2.5 -2.5zM396.5 126.0l2.5 2.5l-2.5 2.5l-2.5 -2.5zM401.5 127.0l2.5 2.5l-2.5 2.5l-2.5 -2.5zM398.5 124.0l2.5 2.5l-2.5 2.5l-2.5 -2.5zM394.5 128.9l2.5 2.5l-2.5 2.5l-2.5 -2.5zM399.5 129.9l2.5 2.5l-2.5 2.5l-2.5 -2.5zM397.5 128.0l2.5 2.5l-2.5 2.5l-2.5 -2.5zM398.5 134.9l2.5 2.5l-2.5 2.5l-2.5 -2.5zM402.5 120.0l2.5 2.5l-2.5 2.5l-2.5 -2.5zM396.5 120.0l2.5 2.5l-2.5 2.5l-2.5 -2.5zM400.5 131.9l2.5 2.5l-2.5 2.5l-2.5 -2.5zM439.5 122.0l2.5 2.5l-2.5 2.5l-2.5 -2.5zM431.5 130.9l2.5 2.5l-2.5 2.5l-2.5 -2.5zM438.5 130.9l2.5 2.5l-2.5 2.5l-2.5 -2.5zM439.5 128.9l2.5 2.5l-2.5 2.5l-2.5 -2.5zM442.5 128.0l2.5 2.5l-2.5 2.5l-2.5 -2.5zM436.5 128.0l2.5 2.5l-2.5 2.5l-2.5 -2.5zM436.5 130.9l2.5 2.5l-2.5 2.5l-2.5 -2.5zM440.5 127.0l2.5 2.5l-2.5 2.5l-2.5 -2.5zM439.5 130.9l2.5 2.5l-2.5 2.5l-2.5 -2.5zM439.5 131.9l2.5 2.5l-2.5 2.5l-2.5 -2.5zM442.5 131.9l2.5 2.5l-2.5 2.5l-2.5 -2.5zM436.5 127.0l2.5 2.5l-2.5 2.5l-2.5 -2.5zM437.5 128.9l2.5 2.5l-2.5 2.5l-2.5 -2.5zM438.5 129.9l2.5 2.5l-2.5 2.5l-2.5 -2.5zM442.5 128.9l2.5 2.5l-2.5 2.5l-2.5 -2.5zM440.5 130.9l2.5 2.5l-2.5 2.5l-2.5 -2.5zM439.5 126.0l2.5 2.5l-2.5 2.5l-2.5 -2.5zM438.5 131.9l2.5 2.5l-2.5 2.5l-2.5 -2.5zM441.5 130.9l2.5 2.5l-2.5 2.5l-2.5 -2.5zM437.5 131.9l2.5 2.5l-2.5 2.5l-2.5 -2.5zM462.5 123.0l2.5 2.5l-2.5 2.5l-2.5 -2.5zM468.5 126.0l2.5 2.5l-2.5 2.5l-2.5 -2.5zM458.5 140.9l2.5 2.5l-2.5 2.5l-2.5 -2.5zM459.5 134.9l2.5 2.5l-2.5 2.5l-2.5 -2.5zM462.5 133.9l2.5 2.5l-2.5 2.5l-2.5 -2.5zM464.5 131.9l2.5 2.5l-2.5 2.5l-2.5 -2.5zM467.5 129.9l2.5 2.5l-2.5 2.5l-2.5 -2.5zM467.5 133.9l2.5 2.5l-2.5 2.5l-2.5 -2.5zM470.5 131.9l2.5 2.5l-2.5 2.5l-2.5 -2.5zM472.5 132.9l2.5 2.5l-2.5 2.5l-2.5 -2.5zM475.5 133.9l2.5 2.5l-2.5 2.5l-2.5 -2.5zM468.5 136.9l2.5 2.5l-2.5 2.5l-2.5 -2.5zM465.5 135.9l2.5 2.5l-2.5 2.5l-2.5 -2.5zM471.5 136.9l2.5 2.5l-2.5 2.5l-2.5 -2.5zM473.5 137.9l2.5 2.5l-2.5 2.5l-2.5 -2.5zM474.5 140.9l2.5 2.5l-2.5 2.5l-2.5 -2.5zM475.5 144.9l2.5 2.5l-2.5 2.5l-2.5 -2.5zM473.5 147.9l2.5 2.5l-2.5 2.5l-2.5 -2.5zM476.5 149.9l2.5 2.5l-2.5 2.5l-2.5 -2.5zM474.5 152.9l2.5 2.5l-2.5 2.5l-2.5 -2.5zM475.5 155.9l2.5 2.5l-2.5 2.5l-2.5 -2.5zM472.5 156.9l2.5 2.5l-2.5 2.5l-2.5 -2.5zM470.5 153.9l2.5 2.5l-2.5 2.5l-2.5 -2.5zM474.5 159.9l2.5 2.5l-2.5 2.5l-2.5 -2.5zM475.5 162.9l2.5 2.5l-2.5 2.5l-2.5 -2.5zM471.5 161.9l2.5 2.5l-2.5 2.5l-2.5 -2.5zM470.5 163.9l2.5 2.5l-2.5 2.5l-2.5 -2.5zM473.5 164.9l2.5 2.5l-2.5 2.5l-2.5 -2.5zM469.5 164.9l2.5 2.5l-2.5 2.5l-2.5 -2.5zM471.5 170.9l2.5 2.5l-2.5 2.5l-2.5 -2.5z"/>
<g shape-rendering="crispEdges" stroke="#000" stroke-width="1" fill="none"><rect x="319.5" y="35.5" width="188" height="138"/><path d="M327.5 173v-2M327.5 36v1M408.5 173v-2M408.5 36v1M490.5 173v-2M490.5 36v1M320 37.5h1M507 37.5h-1M320 70.5h1M507 70.5h-1M320 104.5h1M507 104.5h-1M320 137.5h1M507 137.5h-1M320 170.5h1M507 170.5h-1"/></g>
</g>
<g id="ax3">
<g font-family='"Liberation Sans", Arial, Helvetica, sans-serif' font-size="13.33" fill="#000" stroke="#000" stroke-width=".1"><text transform="translate(81.5 387.0) scale(.88 1)" text-anchor="middle">5</text><text transform="translate(162.5 387.0) scale(.88 1)" text-anchor="middle">10</text><text transform="translate(243.5 387.0) scale(.88 1)" text-anchor="middle">15</text><text transform="translate(68.2 245.8) scale(.88 1)" text-anchor="end">40</text><text transform="translate(68.2 276.8) scale(.88 1)" text-anchor="end">20</text><text transform="translate(68.2 307.8) scale(.88 1)" text-anchor="end">0</text><text transform="translate(68.2 337.8) scale(.88 1)" text-anchor="end">-20</text><text transform="translate(68.2 368.8) scale(.88 1)" text-anchor="end">-40</text><text x="167.0" y="224.0" text-anchor="middle">FE</text><text x="102.5" y="404.5" textLength="43" lengthAdjust="spacingAndGlyphs">average</text><text x="150.3" y="404.5" textLength="23.6" lengthAdjust="spacingAndGlyphs">spot</text><text x="179.3" y="404.5" textLength="47.6" lengthAdjust="spacingAndGlyphs">intensity</text><g transform="translate(41.2 305.2) rotate(-90)"><text x="-39.3" textLength="28" lengthAdjust="spacingAndGlyphs">SAM</text><text x="-7.6" textLength="46.8" lengthAdjust="spacingAndGlyphs">statistic</text></g></g>
<g shape-rendering="crispEdges" fill="#000"><polygon points="70.5,306.4 71.5,304.0 72.5,302.4 73.5,301.6 74.5,300.8 75.5,299.6 76.5,298.4 77.5,297.7 78.5,297.5 79.5,297.4 80.5,297.0 81.5,296.5 82.5,296.0 83.5,295.4 84.5,294.7 85.5,294.1 86.5,293.2 87.5,292.1 88.5,291.0 89.5,290.5 90.5,290.6 91.5,290.8 92.5,290.9 93.5,291.4 94.5,291.9 95.5,292.4 96.5,291.5 97.5,290.5 98.5,289.6 99.5,290.4 100.5,291.2 101.5,291.4 102.5,291.0 103.5,290.7 104.5,290.3 105.5,290.1 106.5,290.1 107.5,290.1 108.5,290.1 109.5,290.7 110.5,291.3 111.5,291.4 112.5,290.8 113.5,290.2 114.5,289.7 115.5,289.7 116.5,289.7 117.5,289.7 118.5,289.7 119.5,289.9 120.5,290.1 121.5,290.2 122.5,290.8 123.5,291.4 124.5,292.0 125.5,292.5 126.5,292.3 127.5,292.0 128.5,291.7 129.5,292.0 130.5,292.2 131.5,292.5 132.5,291.5 133.5,290.6 134.5,289.6 135.5,290.3 136.5,291.0 137.5,291.7 138.5,292.4 139.5,292.1 140.5,291.8 141.5,291.6 142.5,291.0 143.5,290.4 144.5,289.8 145.5,289.6 146.5,289.7 147.5,289.9 148.5,289.9 149.5,289.7 150.5,289.5 151.5,289.7 152.5,290.1 153.5,290.6 154.5,290.9 155.5,291.2 156.5,291.5 157.5,291.7 158.5,291.9 159.5,292.1 160.5,292.1 161.5,291.8 162.5,291.6 163.5,291.4 164.5,291.6 165.5,291.9 166.5,292.1 167.5,292.1 168.5,291.8 169.5,291.6 170.5,291.4 171.5,291.2 172.5,291.0 173.5,290.8 174.5,290.9 175.5,291.3 176.5,291.7 177.5,292.1 178.5,292.1 179.5,291.5 180.5,290.9 181.5,290.4 182.5,290.0 183.5,289.8 184.5,289.6 185.5,290.1 186.5,290.6 187.5,291.1 188.5,291.6 189.5,291.6 190.5,291.7 191.5,291.7 192.5,291.3 193.5,290.9 194.5,290.6 195.5,290.2 196.5,290.6 197.5,291.0 198.5,291.4 199.5,291.7 200.5,290.9 201.5,290.1 202.5,289.9 203.5,290.3 204.5,290.7 205.5,290.9 206.5,290.9 207.5,290.9 208.5,290.9 209.5,291.0 210.5,291.3 211.5,291.6 212.5,290.8 213.5,290.0 214.5,289.6 215.5,289.6 216.5,289.6 217.5,290.0 218.5,290.8 219.5,291.6 220.5,292.3 221.5,291.2 222.5,290.1 223.5,289.6 224.5,289.7 225.5,289.8 226.5,289.9 227.5,289.9 228.5,289.7 229.5,289.5 230.5,289.6 231.5,289.8 232.5,290.2 233.5,290.7 234.5,291.2 235.5,291.2 236.5,290.7 237.5,290.3 238.5,289.9 239.5,289.7 240.5,289.5 241.5,289.4 242.5,290.2 243.5,291.0 244.5,291.8 245.5,291.9 246.5,291.2 247.5,290.6 248.5,289.9 249.5,290.6 250.5,291.3 251.5,291.9 252.5,292.1 253.5,291.9 254.5,291.7 255.5,291.5 256.5,291.2 257.5,291.0 258.5,290.7 259.5,290.5 260.5,290.2 261.5,290.0 262.5,289.8 263.5,289.6 263.5,314.4 262.5,314.0 261.5,313.6 260.5,313.2 259.5,312.7 258.5,312.3 257.5,311.9 256.5,311.9 255.5,312.5 254.5,313.1 253.5,313.7 252.5,313.9 251.5,313.9 250.5,313.9 249.5,313.9 248.5,314.0 247.5,314.2 246.5,314.4 245.5,314.4 244.5,314.4 243.5,314.4 242.5,314.3 241.5,314.1 240.5,313.9 239.5,313.5 238.5,313.0 237.5,312.5 236.5,313.3 235.5,314.1 234.5,314.5 233.5,314.5 232.5,314.5 231.5,314.3 230.5,314.2 229.5,314.0 228.5,313.5 227.5,312.9 226.5,312.3 225.5,311.8 224.5,311.8 223.5,311.8 222.5,311.8 221.5,311.8 220.5,311.8 219.5,311.8 218.5,311.8 217.5,312.4 216.5,313.5 215.5,314.6 214.5,314.1 213.5,313.5 212.5,312.9 211.5,312.9 210.5,313.3 209.5,313.8 208.5,314.2 207.5,314.4 206.5,314.6 205.5,314.6 204.5,314.5 203.5,314.4 202.5,314.3 201.5,314.3 200.5,314.5 199.5,314.7 198.5,314.7 197.5,314.5 196.5,314.3 195.5,313.9 194.5,313.3 193.5,312.8 192.5,312.2 191.5,312.2 190.5,312.9 189.5,313.5 188.5,314.2 187.5,313.4 186.5,312.6 185.5,311.8 184.5,312.1 183.5,312.3 182.5,312.5 181.5,312.5 180.5,312.2 179.5,311.9 178.5,311.8 177.5,311.8 176.5,311.8 175.5,311.8 174.5,312.4 173.5,313.0 172.5,313.5 171.5,313.9 170.5,314.2 169.5,314.5 168.5,314.5 167.5,314.5 166.5,313.9 165.5,312.8 164.5,311.7 163.5,311.9 162.5,312.2 161.5,312.5 160.5,313.1 159.5,313.8 158.5,314.4 157.5,313.8 156.5,313.3 155.5,312.7 154.5,312.5 153.5,312.6 152.5,312.8 151.5,313.0 150.5,313.2 149.5,313.4 148.5,313.6 147.5,313.8 146.5,314.0 145.5,314.2 144.5,313.8 143.5,313.5 142.5,313.1 141.5,312.9 140.5,312.9 139.5,312.9 138.5,312.8 137.5,312.2 136.5,311.5 135.5,311.6 134.5,312.3 133.5,313.1 132.5,313.5 131.5,313.6 130.5,313.7 129.5,313.8 128.5,313.7 127.5,313.3 126.5,312.9 125.5,312.6 124.5,312.1 123.5,311.7 122.5,311.2 121.5,311.6 120.5,312.0 119.5,312.3 118.5,312.7 117.5,312.9 116.5,313.2 115.5,313.4 114.5,313.3 113.5,313.1 112.5,312.9 111.5,312.8 110.5,312.0 109.5,311.2 108.5,310.9 107.5,311.2 106.5,311.5 105.5,311.8 104.5,312.3 103.5,313.0 102.5,313.7 101.5,313.7 100.5,313.8 99.5,313.9 98.5,313.9 97.5,314.0 96.5,314.1 95.5,314.1 94.5,314.5 93.5,315.2 92.5,315.8 91.5,316.5 90.5,317.3 89.5,318.0 88.5,318.8 87.5,319.6 86.5,320.6 85.5,321.6 84.5,322.6 83.5,322.7 82.5,322.9 81.5,323.0 80.5,322.9 79.5,322.5 78.5,322.1 77.5,322.1 76.5,322.4 75.5,322.7 74.5,323.0 73.5,322.4 72.5,321.1 71.5,318.4 70.5,314.4"/><path d="M73.5 297.9l2.5 2.5l-2.5 2.5l-2.5 -2.5zM73.5 320.9l2.5 2.5l-2.5 2.5l-2.5 -2.5zM76.5 294.9l2.5 2.5l-2.5 2.5l-2.5 -2.5zM76.5 319.9l2.5 2.5l-2.5 2.5l-2.5 -2.5zM78.5 294.9l2.5 2.5l-2.5 2.5l-2.5 -2.5zM78.5 319.9l2.5 2.5l-2.5 2.5l-2.5 -2.5zM82.5 292.9l2.5 2.5l-2.5 2.5l-2.5 -2.5zM82.5 320.9l2.5 2.5l-2.5 2.5l-2.5 -2.5zM85.5 290.9l2.5 2.5l-2.5 2.5l-2.5 -2.5zM85.5 320.9l2.5 2.5l-2.5 2.5l-2.5 -2.5zM88.5 287.9l2.5 2.5l-2.5 2.5l-2.5 -2.5zM88.5 317.9l2.5 2.5l-2.5 2.5l-2.5 -2.5zM90.5 286.9l2.5 2.5l-2.5 2.5l-2.5 -2.5zM90.5 315.9l2.5 2.5l-2.5 2.5l-2.5 -2.5zM92.5 286.9l2.5 2.5l-2.5 2.5l-2.5 -2.5zM92.5 313.9l2.5 2.5l-2.5 2.5l-2.5 -2.5zM95.5 287.9l2.5 2.5l-2.5 2.5l-2.5 -2.5zM95.5 312.9l2.5 2.5l-2.5 2.5l-2.5 -2.5zM97.5 286.9l2.5 2.5l-2.5 2.5l-2.5 -2.5zM97.5 312.9l2.5 2.5l-2.5 2.5l-2.5 -2.5zM100.5 286.9l2.5 2.5l-2.5 2.5l-2.5 -2.5zM100.5 312.9l2.5 2.5l-2.5 2.5l-2.5 -2.5zM103.5 286.9l2.5 2.5l-2.5 2.5l-2.5 -2.5zM103.5 311.9l2.5 2.5l-2.5 2.5l-2.5 -2.5zM107.5 285.9l2.5 2.5l-2.5 2.5l-2.5 -2.5zM107.5 309.9l2.5 2.5l-2.5 2.5l-2.5 -2.5zM111.5 288.9l2.5 2.5l-2.5 2.5l-2.5 -2.5zM111.5 309.9l2.5 2.5l-2.5 2.5l-2.5 -2.5zM113.5 286.9l2.5 2.5l-2.5 2.5l-2.5 -2.5zM113.5 310.9l2.5 2.5l-2.5 2.5l-2.5 -2.5zM116.5 285.9l2.5 2.5l-2.5 2.5l-2.5 -2.5zM116.5 311.9l2.5 2.5l-2.5 2.5l-2.5 -2.5zM120.5 285.9l2.5 2.5l-2.5 2.5l-2.5 -2.5zM120.5 310.9l2.5 2.5l-2.5 2.5l-2.5 -2.5zM123.5 286.9l2.5 2.5l-2.5 2.5l-2.5 -2.5zM123.5 309.9l2.5 2.5l-2.5 2.5l-2.5 -2.5zM125.5 288.9l2.5 2.5l-2.5 2.5l-2.5 -2.5zM125.5 310.9l2.5 2.5l-2.5 2.5l-2.5 -2.5zM128.5 287.9l2.5 2.5l-2.5 2.5l-2.5 -2.5zM128.5 311.9l2.5 2.5l-2.5 2.5l-2.5 -2.5zM130.5 287.9l2.5 2.5l-2.5 2.5l-2.5 -2.5zM130.5 311.9l2.5 2.5l-2.5 2.5l-2.5 -2.5zM132.5 287.9l2.5 2.5l-2.5 2.5l-2.5 -2.5zM132.5 311.9l2.5 2.5l-2.5 2.5l-2.5 -2.5zM134.5 285.9l2.5 2.5l-2.5 2.5l-2.5 -2.5zM134.5 310.9l2.5 2.5l-2.5 2.5l-2.5 -2.5zM136.5 287.9l2.5 2.5l-2.5 2.5l-2.5 -2.5zM136.5 309.9l2.5 2.5l-2.5 2.5l-2.5 -2.5zM139.5 288.9l2.5 2.5l-2.5 2.5l-2.5 -2.5zM139.5 311.9l2.5 2.5l-2.5 2.5l-2.5 -2.5zM141.5 287.9l2.5 2.5l-2.5 2.5l-2.5 -2.5zM141.5 311.9l2.5 2.5l-2.5 2.5l-2.5 -2.5zM143.5 286.9l2.5 2.5l-2.5 2.5l-2.5 -2.5zM143.5 310.9l2.5 2.5l-2.5 2.5l-2.5 -2.5zM145.5 285.9l2.5 2.5l-2.5 2.5l-2.5 -2.5zM145.5 312.9l2.5 2.5l-2.5 2.5l-2.5 -2.5zM148.5 285.9l2.5 2.5l-2.5 2.5l-2.5 -2.5zM148.5 311.9l2.5 2.5l-2.5 2.5l-2.5 -2.5zM151.5 286.9l2.5 2.5l-2.5 2.5l-2.5 -2.5zM151.5 311.9l2.5 2.5l-2.5 2.5l-2.5 -2.5zM153.5 286.9l2.5 2.5l-2.5 2.5l-2.5 -2.5zM153.5 310.9l2.5 2.5l-2.5 2.5l-2.5 -2.5zM156.5 287.9l2.5 2.5l-2.5 2.5l-2.5 -2.5zM156.5 311.9l2.5 2.5l-2.5 2.5l-2.5 -2.5zM159.5 288.9l2.5 2.5l-2.5 2.5l-2.5 -2.5zM159.5 312.9l2.5 2.5l-2.5 2.5l-2.5 -2.5zM161.5 288.9l2.5 2.5l-2.5 2.5l-2.5 -2.5zM161.5 310.9l2.5 2.5l-2.5 2.5l-2.5 -2.5zM165.5 287.9l2.5 2.5l-2.5 2.5l-2.5 -2.5zM165.5 310.9l2.5 2.5l-2.5 2.5l-2.5 -2.5zM169.5 287.9l2.5 2.5l-2.5 2.5l-2.5 -2.5zM169.5 312.9l2.5 2.5l-2.5 2.5l-2.5 -2.5zM171.5 287.9l2.5 2.5l-2.5 2.5l-2.5 -2.5zM171.5 312.9l2.5 2.5l-2.5 2.5l-2.5 -2.5zM175.5 286.9l2.5 2.5l-2.5 2.5l-2.5 -2.5zM175.5 310.9l2.5 2.5l-2.5 2.5l-2.5 -2.5zM178.5 288.9l2.5 2.5l-2.5 2.5l-2.5 -2.5zM178.5 309.9l2.5 2.5l-2.5 2.5l-2.5 -2.5zM181.5 287.9l2.5 2.5l-2.5 2.5l-2.5 -2.5zM181.5 310.9l2.5 2.5l-2.5 2.5l-2.5 -2.5zM185.5 285.9l2.5 2.5l-2.5 2.5l-2.5 -2.5zM185.5 309.9l2.5 2.5l-2.5 2.5l-2.5 -2.5zM188.5 287.9l2.5 2.5l-2.5 2.5l-2.5 -2.5zM188.5 312.9l2.5 2.5l-2.5 2.5l-2.5 -2.5zM191.5 287.9l2.5 2.5l-2.5 2.5l-2.5 -2.5zM191.5 310.9l2.5 2.5l-2.5 2.5l-2.5 -2.5zM195.5 286.9l2.5 2.5l-2.5 2.5l-2.5 -2.5zM195.5 311.9l2.5 2.5l-2.5 2.5l-2.5 -2.5zM197.5 287.9l2.5 2.5l-2.5 2.5l-2.5 -2.5zM197.5 312.9l2.5 2.5l-2.5 2.5l-2.5 -2.5zM200.5 287.9l2.5 2.5l-2.5 2.5l-2.5 -2.5zM200.5 312.9l2.5 2.5l-2.5 2.5l-2.5 -2.5zM204.5 287.9l2.5 2.5l-2.5 2.5l-2.5 -2.5zM204.5 312.9l2.5 2.5l-2.5 2.5l-2.5 -2.5zM208.5 286.9l2.5 2.5l-2.5 2.5l-2.5 -2.5zM208.5 312.9l2.5 2.5l-2.5 2.5l-2.5 -2.5zM211.5 287.9l2.5 2.5l-2.5 2.5l-2.5 -2.5zM211.5 311.9l2.5 2.5l-2.5 2.5l-2.5 -2.5zM215.5 285.9l2.5 2.5l-2.5 2.5l-2.5 -2.5zM215.5 311.9l2.5 2.5l-2.5 2.5l-2.5 -2.5zM218.5 287.9l2.5 2.5l-2.5 2.5l-2.5 -2.5zM218.5 310.9l2.5 2.5l-2.5 2.5l-2.5 -2.5zM220.5 287.9l2.5 2.5l-2.5 2.5l-2.5 -2.5zM220.5 309.9l2.5 2.5l-2.5 2.5l-2.5 -2.5zM223.5 286.9l2.5 2.5l-2.5 2.5l-2.5 -2.5zM223.5 309.9l2.5 2.5l-2.5 2.5l-2.5 -2.5zM226.5 286.9l2.5 2.5l-2.5 2.5l-2.5 -2.5zM226.5 309.9l2.5 2.5l-2.5 2.5l-2.5 -2.5zM229.5 285.9l2.5 2.5l-2.5 2.5l-2.5 -2.5zM229.5 311.9l2.5 2.5l-2.5 2.5l-2.5 -2.5zM232.5 286.9l2.5 2.5l-2.5 2.5l-2.5 -2.5zM232.5 312.9l2.5 2.5l-2.5 2.5l-2.5 -2.5zM235.5 287.9l2.5 2.5l-2.5 2.5l-2.5 -2.5zM235.5 312.9l2.5 2.5l-2.5 2.5l-2.5 -2.5zM238.5 285.9l2.5 2.5l-2.5 2.5l-2.5 -2.5zM238.5 310.9l2.5 2.5l-2.5 2.5l-2.5 -2.5zM241.5 285.9l2.5 2.5l-2.5 2.5l-2.5 -2.5zM241.5 312.9l2.5 2.5l-2.5 2.5l-2.5 -2.5zM244.5 287.9l2.5 2.5l-2.5 2.5l-2.5 -2.5zM244.5 312.9l2.5 2.5l-2.5 2.5l-2.5 -2.5zM247.5 286.9l2.5 2.5l-2.5 2.5l-2.5 -2.5zM247.5 312.9l2.5 2.5l-2.5 2.5l-2.5 -2.5zM249.5 286.9l2.5 2.5l-2.5 2.5l-2.5 -2.5zM249.5 311.9l2.5 2.5l-2.5 2.5l-2.5 -2.5zM252.5 288.9l2.5 2.5l-2.5 2.5l-2.5 -2.5zM252.5 312.9l2.5 2.5l-2.5 2.5l-2.5 -2.5zM255.5 288.9l2.5 2.5l-2.5 2.5l-2.5 -2.5zM255.5 310.9l2.5 2.5l-2.5 2.5l-2.5 -2.5zM258.5 286.9l2.5 2.5l-2.5 2.5l-2.5 -2.5zM258.5 310.9l2.5 2.5l-2.5 2.5l-2.5 -2.5zM83.5 280.9l2.5 2.5l-2.5 2.5l-2.5 -2.5zM93.5 276.9l2.5 2.5l-2.5 2.5l-2.5 -2.5zM90.5 281.9l2.5 2.5l-2.5 2.5l-2.5 -2.5zM118.5 284.9l2.5 2.5l-2.5 2.5l-2.5 -2.5zM123.5 284.9l2.5 2.5l-2.5 2.5l-2.5 -2.5zM132.5 284.9l2.5 2.5l-2.5 2.5l-2.5 -2.5zM139.5 284.9l2.5 2.5l-2.5 2.5l-2.5 -2.5zM146.5 284.9l2.5 2.5l-2.5 2.5l-2.5 -2.5zM159.5 284.9l2.5 2.5l-2.5 2.5l-2.5 -2.5zM187.5 280.9l2.5 2.5l-2.5 2.5l-2.5 -2.5zM213.5 282.9l2.5 2.5l-2.5 2.5l-2.5 -2.5zM242.5 282.9l2.5 2.5l-2.5 2.5l-2.5 -2.5zM253.5 282.9l2.5 2.5l-2.5 2.5l-2.5 -2.5zM101.5 314.9l2.5 2.5l-2.5 2.5l-2.5 -2.5zM104.5 317.9l2.5 2.5l-2.5 2.5l-2.5 -2.5zM90.5 321.9l2.5 2.5l-2.5 2.5l-2.5 -2.5zM86.5 321.9l2.5 2.5l-2.5 2.5l-2.5 -2.5zM81.5 322.9l2.5 2.5l-2.5 2.5l-2.5 -2.5zM75.5 327.9l2.5 2.5l-2.5 2.5l-2.5 -2.5zM77.5 325.9l2.5 2.5l-2.5 2.5l-2.5 -2.5z"/></g>
<path shape-rendering="crispEdges" fill="#0cf00c" d="M252.5 233.9l2.5 2.5l-2.5 2.5l-2.5 -2.5zM251.5 236.9l2.5 2.5l-2.5 2.5l-2.5 -2.5zM254.5 235.9l2.5 2.5l-2.5 2.5l-2.5 -2.5zM250.5 240.9l2.5 2.5l-2.5 2.5l-2.5 -2.5zM256.5 241.9l2.5 2.5l-2.5 2.5l-2.5 -2.5zM252.5 235.9l2.5 2.5l-2.5 2.5l-2.5 -2.5zM252.5 238.9l2.5 2.5l-2.5 2.5l-2.5 -2.5zM254.5 240.9l2.5 2.5l-2.5 2.5l-2.5 -2.5zM251.5 242.9l2.5 2.5l-2.5 2.5l-2.5 -2.5zM255.5 243.9l2.5 2.5l-2.5 2.5l-2.5 -2.5zM253.5 244.9l2.5 2.5l-2.5 2.5l-2.5 -2.5zM250.5 244.9l2.5 2.5l-2.5 2.5l-2.5 -2.5zM254.5 246.9l2.5 2.5l-2.5 2.5l-2.5 -2.5zM252.5 247.9l2.5 2.5l-2.5 2.5l-2.5 -2.5zM253.5 253.9l2.5 2.5l-2.5 2.5l-2.5 -2.5zM253.5 257.9l2.5 2.5l-2.5 2.5l-2.5 -2.5zM255.5 237.9l2.5 2.5l-2.5 2.5l-2.5 -2.5zM177.5 270.9l2.5 2.5l-2.5 2.5l-2.5 -2.5zM175.5 272.9l2.5 2.5l-2.5 2.5l-2.5 -2.5zM178.5 273.9l2.5 2.5l-2.5 2.5l-2.5 -2.5zM167.5 274.9l2.5 2.5l-2.5 2.5l-2.5 -2.5zM169.5 274.9l2.5 2.5l-2.5 2.5l-2.5 -2.5zM171.5 275.9l2.5 2.5l-2.5 2.5l-2.5 -2.5zM174.5 274.9l2.5 2.5l-2.5 2.5l-2.5 -2.5zM176.5 275.9l2.5 2.5l-2.5 2.5l-2.5 -2.5zM179.5 275.9l2.5 2.5l-2.5 2.5l-2.5 -2.5zM170.5 277.9l2.5 2.5l-2.5 2.5l-2.5 -2.5zM173.5 277.9l2.5 2.5l-2.5 2.5l-2.5 -2.5zM175.5 277.9l2.5 2.5l-2.5 2.5l-2.5 -2.5zM178.5 278.9l2.5 2.5l-2.5 2.5l-2.5 -2.5zM172.5 279.9l2.5 2.5l-2.5 2.5l-2.5 -2.5zM174.5 280.9l2.5 2.5l-2.5 2.5l-2.5 -2.5zM177.5 280.9l2.5 2.5l-2.5 2.5l-2.5 -2.5zM179.5 280.9l2.5 2.5l-2.5 2.5l-2.5 -2.5zM169.5 276.9l2.5 2.5l-2.5 2.5l-2.5 -2.5zM237.5 269.9l2.5 2.5l-2.5 2.5l-2.5 -2.5zM243.5 269.9l2.5 2.5l-2.5 2.5l-2.5 -2.5zM239.5 271.9l2.5 2.5l-2.5 2.5l-2.5 -2.5zM242.5 271.9l2.5 2.5l-2.5 2.5l-2.5 -2.5zM237.5 272.9l2.5 2.5l-2.5 2.5l-2.5 -2.5zM243.5 272.9l2.5 2.5l-2.5 2.5l-2.5 -2.5zM240.5 273.9l2.5 2.5l-2.5 2.5l-2.5 -2.5zM239.5 274.9l2.5 2.5l-2.5 2.5l-2.5 -2.5zM242.5 274.9l2.5 2.5l-2.5 2.5l-2.5 -2.5zM240.5 276.9l2.5 2.5l-2.5 2.5l-2.5 -2.5zM249.5 284.9l2.5 2.5l-2.5 2.5l-2.5 -2.5zM258.5 284.9l2.5 2.5l-2.5 2.5l-2.5 -2.5zM168.5 303.9l2.5 2.5l-2.5 2.5l-2.5 -2.5zM177.5 309.9l2.5 2.5l-2.5 2.5l-2.5 -2.5zM174.5 318.9l2.5 2.5l-2.5 2.5l-2.5 -2.5zM173.5 322.9l2.5 2.5l-2.5 2.5l-2.5 -2.5zM170.5 325.9l2.5 2.5l-2.5 2.5l-2.5 -2.5zM175.5 324.9l2.5 2.5l-2.5 2.5l-2.5 -2.5zM172.5 328.9l2.5 2.5l-2.5 2.5l-2.5 -2.5zM177.5 328.9l2.5 2.5l-2.5 2.5l-2.5 -2.5zM174.5 326.9l2.5 2.5l-2.5 2.5l-2.5 -2.5zM178.5 332.9l2.5 2.5l-2.5 2.5l-2.5 -2.5zM175.5 331.9l2.5 2.5l-2.5 2.5l-2.5 -2.5zM176.5 336.9l2.5 2.5l-2.5 2.5l-2.5 -2.5zM178.5 335.9l2.5 2.5l-2.5 2.5l-2.5 -2.5zM170.5 338.9l2.5 2.5l-2.5 2.5l-2.5 -2.5zM176.5 334.9l2.5 2.5l-2.5 2.5l-2.5 -2.5zM211.5 332.9l2.5 2.5l-2.5 2.5l-2.5 -2.5zM219.5 330.9l2.5 2.5l-2.5 2.5l-2.5 -2.5zM220.5 324.9l2.5 2.5l-2.5 2.5l-2.5 -2.5zM216.5 326.9l2.5 2.5l-2.5 2.5l-2.5 -2.5zM221.5 326.9l2.5 2.5l-2.5 2.5l-2.5 -2.5zM217.5 325.9l2.5 2.5l-2.5 2.5l-2.5 -2.5zM216.5 327.9l2.5 2.5l-2.5 2.5l-2.5 -2.5zM217.5 329.9l2.5 2.5l-2.5 2.5l-2.5 -2.5zM216.5 328.9l2.5 2.5l-2.5 2.5l-2.5 -2.5zM218.5 323.9l2.5 2.5l-2.5 2.5l-2.5 -2.5zM221.5 327.9l2.5 2.5l-2.5 2.5l-2.5 -2.5zM222.5 326.9l2.5 2.5l-2.5 2.5l-2.5 -2.5zM222.5 331.9l2.5 2.5l-2.5 2.5l-2.5 -2.5zM220.5 334.9l2.5 2.5l-2.5 2.5l-2.5 -2.5zM250.5 325.9l2.5 2.5l-2.5 2.5l-2.5 -2.5zM249.5 328.9l2.5 2.5l-2.5 2.5l-2.5 -2.5zM247.5 330.9l2.5 2.5l-2.5 2.5l-2.5 -2.5zM244.5 328.9l2.5 2.5l-2.5 2.5l-2.5 -2.5zM242.5 330.9l2.5 2.5l-2.5 2.5l-2.5 -2.5zM251.5 331.9l2.5 2.5l-2.5 2.5l-2.5 -2.5zM253.5 333.9l2.5 2.5l-2.5 2.5l-2.5 -2.5zM256.5 334.9l2.5 2.5l-2.5 2.5l-2.5 -2.5zM249.5 333.9l2.5 2.5l-2.5 2.5l-2.5 -2.5zM247.5 335.9l2.5 2.5l-2.5 2.5l-2.5 -2.5zM244.5 337.9l2.5 2.5l-2.5 2.5l-2.5 -2.5zM241.5 338.9l2.5 2.5l-2.5 2.5l-2.5 -2.5zM239.5 340.9l2.5 2.5l-2.5 2.5l-2.5 -2.5zM243.5 339.9l2.5 2.5l-2.5 2.5l-2.5 -2.5zM252.5 328.9l2.5 2.5l-2.5 2.5l-2.5 -2.5zM250.5 330.9l2.5 2.5l-2.5 2.5l-2.5 -2.5zM255.5 343.9l2.5 2.5l-2.5 2.5l-2.5 -2.5zM256.5 347.9l2.5 2.5l-2.5 2.5l-2.5 -2.5zM254.5 350.9l2.5 2.5l-2.5 2.5l-2.5 -2.5zM256.5 352.9l2.5 2.5l-2.5 2.5l-2.5 -2.5zM251.5 353.9l2.5 2.5l-2.5 2.5l-2.5 -2.5zM255.5 355.9l2.5 2.5l-2.5 2.5l-2.5 -2.5zM253.5 358.9l2.5 2.5l-2.5 2.5l-2.5 -2.5zM256.5 359.9l2.5 2.5l-2.5 2.5l-2.5 -2.5zM255.5 361.9l2.5 2.5l-2.5 2.5l-2.5 -2.5zM250.5 366.9l2.5 2.5l-2.5 2.5l-2.5 -2.5zM252.5 369.9l2.5 2.5l-2.5 2.5l-2.5 -2.5z"/>
<g shape-rendering="crispEdges" stroke="#000" stroke-width="1" fill="none"><rect x="73.5" y="234.5" width="187" height="138"/><path d="M81.5 372v-2M81.5 235v1M162.5 372v-2M162.5 235v1M243.5 372v-2M243.5 235v1M74 241.5h1M260 241.5h-1M74 272.5h1M260 272.5h-1M74 303.5h1M260 303.5h-1M74 333.5h1M260 333.5h-1M74 364.5h1M260 364.5h-1"/></g>
</g>
</svg></body></html>
